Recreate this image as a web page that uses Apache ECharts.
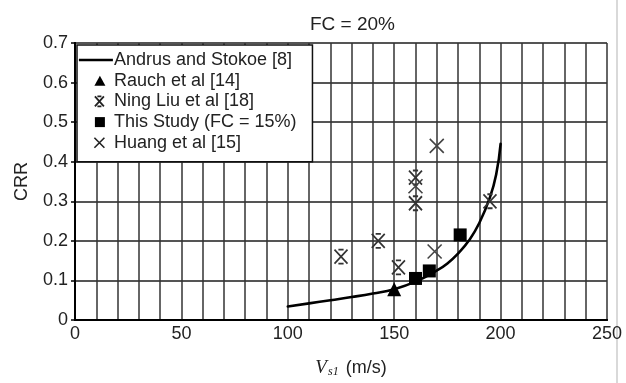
<!DOCTYPE html>
<html>
<head>
<meta charset="utf-8">
<script src="https://cdn.jsdelivr.net/npm/echarts@6/dist/echarts.min.js"></script>
<style>
  html, body { margin: 0; padding: 0; background: #fff; }
  #chart { width: 626px; height: 383px; }
</style>
</head>
<body>
<div id="chart"></div>
<script>
// Andrus and Stokoe curve
var curveVs = [100, 110, 120, 130, 140, 150, 160, 170, 175, 180, 185, 190, 195, 198, 200];
var curveCrr = [0.034, 0.042, 0.05, 0.058, 0.067, 0.078, 0.097, 0.125, 0.143, 0.168, 0.2, 0.245, 0.31, 0.37, 0.445];

var rauchData = [[150, 0.078]];
var ningLiuData = [[125, 0.16], [142.5, 0.2], [152, 0.133], [160, 0.295], [160, 0.36], [195, 0.3]];
var thisStudyData = [[160, 0.105], [166.5, 0.124], [181, 0.215]];
var huangData = [[170, 0.44], [169, 0.173], [160, 0.338]];

var xLabels = [0, 50, 100, 150, 200, 250];

var curveData = curveVs.map(function (v, i) { return [v, curveCrr[i]]; });

var font = 'Liberation Sans, Arial, sans-serif';
var ningPath = 'path://M3,0L7,0M3,12L7,12M0,0L10,12M10,0L0,12';
var huangPath = 'path://M0,0L10,10M10,0L0,10';

// legend icons sized to the 34x11 icon box (the trailing moves pin the box)
var box = 'M0,0M34,11';
var iconLine = 'path://M0,4.2L34,4.2L34,6.8L0,6.8Z' + box;
var iconTri = 'path://M21,0.5L26.5,10.5L15.5,10.5Z' + box;
var iconNing = 'path://M18.5,0.5L22.5,0.5M18.5,10.5L22.5,10.5M16,0.5L25,10.5M25,0.5L16,10.5' + box;
var iconRect = 'path://M16,0.5L26,0.5L26,10.5L16,10.5Z' + box;
var iconHuang = 'path://M15.5,0.5L25.5,10.5M25.5,0.5L15.5,10.5' + box;

var chart = echarts.init(document.getElementById('chart'));

var option = {
    animation: false,
    backgroundColor: '#fff',
    title: {
        text: 'FC = 20%',
        left: 305,
        top: 10,
        textStyle: { fontFamily: font, fontSize: 19, fontWeight: 'normal', color: '#222' }
    },
    legend: {
        orient: 'vertical',
        left: 77,
        top: 45,
        padding: [5, 16, 9, 1],
        itemWidth: 34,
        itemHeight: 11,
        itemGap: 0.7,
        symbolKeepAspect: false,
        backgroundColor: '#fff',
        borderColor: '#111',
        borderWidth: 1.5,
        textStyle: { fontFamily: font, fontSize: 18, color: '#222', lineHeight: 20, padding: [0, 0, 0, -4] },
        data: [
            { name: 'Andrus and Stokoe [8]', icon: iconLine, itemStyle: { color: '#000', borderWidth: 0 } },
            { name: 'Rauch et al [14]', icon: iconTri, itemStyle: { color: '#000', borderWidth: 0 } },
            { name: 'Ning Liu et al [18]', icon: iconNing, itemStyle: { color: 'rgba(0,0,0,0)', borderColor: '#222', borderWidth: 1.8 } },
            { name: 'This Study (FC = 15%)', icon: iconRect, itemStyle: { color: '#000', borderWidth: 0 } },
            { name: 'Huang et al [15]', icon: iconHuang, itemStyle: { color: 'rgba(0,0,0,0)', borderColor: '#222', borderWidth: 1.6 } }
        ]
    },
    grid: { left: 75, right: 19, top: 43, bottom: 60 },
    xAxis: [{
        type: 'value',
        min: 0,
        max: 250,
        interval: 10,
        name: '{v|V}{s|s1} (m/s)',
        nameLocation: 'middle',
        nameGap: 38,
        nameTextStyle: {
            fontFamily: font, fontSize: 18, color: '#222', padding: [0, 0, 0, 20],
            rich: {
                v: { fontFamily: 'Liberation Serif, serif', fontStyle: 'italic', fontSize: 19, color: '#222' },
                s: { fontFamily: 'Liberation Serif, serif', fontStyle: 'italic', fontSize: 12, color: '#222', verticalAlign: 'bottom', padding: [8, 2, 0, 1] }
            }
        },
        axisLine: { show: true, lineStyle: { color: '#000', width: 2 } },
        axisTick: { show: false },
        axisLabel: {
            fontFamily: font, fontSize: 18, color: '#222', margin: 5,
            formatter: function (v) { return xLabels.indexOf(v) >= 0 ? String(v) : ''; }
        },
        splitLine: { show: true, lineStyle: { color: '#333', width: 1.5 } }
    }, {
        type: 'value', position: 'top', min: 0, max: 250,
        axisLine: { show: true, lineStyle: { color: '#000', width: 2 } },
        axisTick: { show: false }, axisLabel: { show: false }, splitLine: { show: false }
    }],
    yAxis: [{
        type: 'value',
        min: 0,
        max: 0.7,
        interval: 0.1,
        name: 'CRR',
        nameLocation: 'middle',
        nameGap: 44,
        nameTextStyle: { fontFamily: font, fontSize: 18, color: '#222' },
        axisLine: { show: true, lineStyle: { color: '#000', width: 2 } },
        axisTick: { show: true, length: 4, lineStyle: { color: '#000', width: 1.5 } },
        axisLabel: { fontFamily: font, fontSize: 18, color: '#222', margin: 7 },
        splitLine: { show: true, lineStyle: { color: '#555', width: 1.8 } }
    }, {
        type: 'value', position: 'right', min: 0, max: 0.7,
        axisLine: { show: true, lineStyle: { color: '#000', width: 2 } },
        axisTick: { show: false }, axisLabel: { show: false }, splitLine: { show: false }
    }],
    graphic: [{
        type: 'line',
        shape: { x1: 617, y1: 0, x2: 617, y2: 383 },
        style: { stroke: '#ccc', lineWidth: 1.5 }
    }],
    series: [
        {
            name: 'Andrus and Stokoe [8]',
            type: 'line',
            data: curveData,
            smooth: 0.5,
            symbol: 'none',
            lineStyle: { color: '#000', width: 2.6, join: 'round', cap: 'round' },
            itemStyle: { color: '#000' },
            z: 3
        },
        {
            name: 'Rauch et al [14]',
            type: 'scatter',
            data: rauchData,
            symbol: 'triangle',
            symbolSize: 14,
            itemStyle: { color: '#000', opacity: 1 },
            z: 4
        },
        {
            name: 'Ning Liu et al [18]',
            type: 'scatter',
            data: ningLiuData,
            symbol: ningPath,
            symbolSize: [13, 14],
            itemStyle: { color: 'rgba(0,0,0,0)', borderColor: '#333', borderWidth: 1.8, opacity: 1 },
            z: 4
        },
        {
            name: 'This Study (FC = 15%)',
            type: 'scatter',
            data: thisStudyData,
            symbol: 'rect',
            symbolSize: 13,
            itemStyle: { color: '#000', opacity: 1 },
            z: 4
        },
        {
            name: 'Huang et al [15]',
            type: 'scatter',
            data: huangData,
            symbol: huangPath,
            symbolSize: 14,
            itemStyle: { color: 'rgba(0,0,0,0)', borderColor: '#444', borderWidth: 1.6, opacity: 1 },
            z: 4
        }
    ]
};

chart.setOption(option);
</script>
</body>
</html>
